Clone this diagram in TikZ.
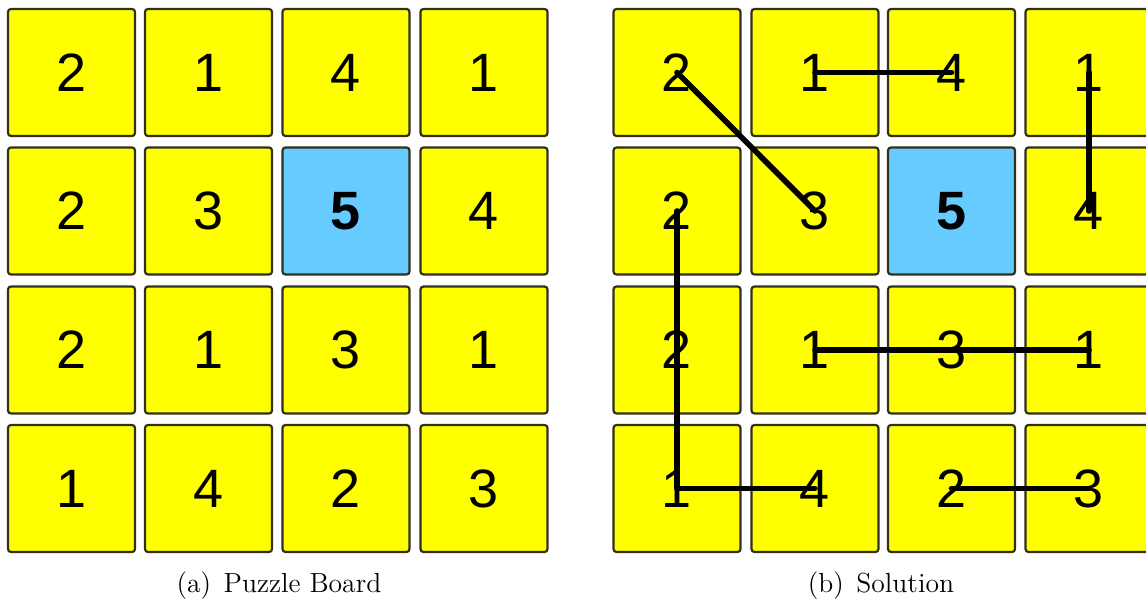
\documentclass[tikz,border=0pt]{standalone}
\usepackage{fontspec}
\newfontfamily\digitfont{Liberation Sans}
\definecolor{cellyellow}{HTML}{FFFF00}
\definecolor{cellblue}{HTML}{66CCFF}
\definecolor{cellborder}{HTML}{30301C}
\tikzset{
  cell/.style={draw=cellborder, line width=1.1pt, rounded corners=1.5pt,
    minimum width=63.5pt, minimum height=63.5pt, inner sep=0pt,
    fill=cellyellow, font=\digitfont\fontsize{27}{27}\selectfont},
  bluecell/.style={cell, fill=cellblue, font=\digitfont\bfseries\fontsize{27}{27}\selectfont},
  solline/.style={line width=2.8pt, black, line cap=round, line join=round},
  caption/.style={font=\fontsize{13.8}{16}\selectfont, anchor=base}
}
\begin{document}
\begin{tikzpicture}[x=0.5pt, y=-0.5pt]
\useasboundingbox (0,0) rectangle (1146,609);
\clip (0,0) rectangle (1146,609);
\foreach \r/\y in {1/72.5, 2/211, 3/350, 4/488.5}{
  \foreach \c/\x in {1/71.5, 2/208.5, 3/346, 4/484}{
    \coordinate (LP\r\c) at (\x,\y);
  }
}
\foreach \r/\y in {1/72.5, 2/211, 3/350, 4/488.5}{
  \foreach \c/\x in {1/677, 2/815, 3/951.5, 4/1089}{
    \coordinate (RP\r\c) at (\x,\y);
  }
}
% board values (left: puzzle, right: solution)
\foreach \rc/\v in {11/2,12/1,13/4,14/1, 21/2,22/3,24/4, 31/2,32/1,33/3,34/1, 41/1,42/4,43/2,44/3}{
  \node[cell] (L\rc) at (LP\rc) {\v};
  \node[cell] (R\rc) at (RP\rc) {\v};
}
\node[bluecell] (L23) at (LP23) {5};
\node[bluecell] (R23) at (RP23) {5};
% solution lines
\draw[solline] (R11.center) -- (R22.center);
\draw[solline] (R12.center) -- (R13.center);
\draw[solline] (R14.center) -- (R24.center);
\draw[solline] (R21.center) -- (R41.center) -- (R42.center);
\draw[solline] (R32.center) -- (R34.center);
\draw[solline] (R43.center) -- (R44.center);
% captions
\node[caption] (capa) at (279,592) {(a)\hspace{0.45em}Puzzle Board};
\node[caption] (capb) at (881,592) {(b)\hspace{0.45em}Solution};
\end{tikzpicture}
\end{document}
